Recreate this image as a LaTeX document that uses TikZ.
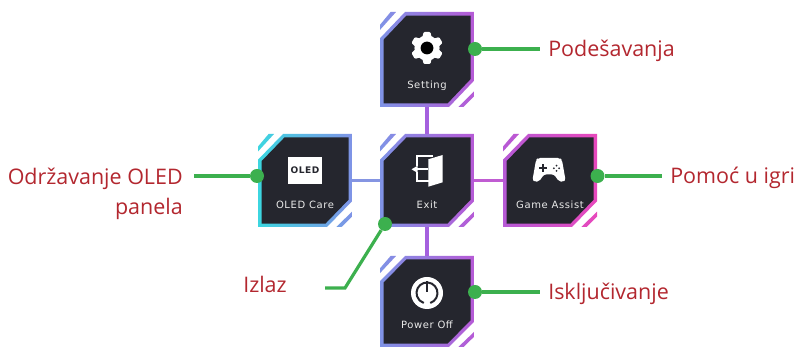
\documentclass[tikz,border=0pt]{standalone}
\usepackage{fontspec}
\setmainfont{Open Sans}
\newfontfamily\uifont[LetterSpace=6]{DejaVu Sans}
\definecolor{panel}{HTML}{25262E}
\definecolor{leadgreen}{HTML}{3CB04E}
\definecolor{labelred}{HTML}{B3272F}
\definecolor{uigrey}{HTML}{EAEAEA}
\definecolor{cyanA}{HTML}{3CD6E0}
\definecolor{periA}{HTML}{7F93E6}
\definecolor{purpA}{HTML}{B65AD6}
\definecolor{pinkA}{HTML}{E848BC}
\definecolor{linkleft}{HTML}{8595E2}
\definecolor{linkright}{HTML}{C05CD2}
\definecolor{linkmid}{HTML}{A560DE}
\tikzset{
  leadline/.style={draw=leadgreen,line width=2.4pt},
  leaddot/.style={circle,fill=leadgreen,minimum size=10.5pt,inner sep=0pt},
  calllabel/.style={text=labelred,font=\fontsize{16.1pt}{22.5pt}\selectfont,inner sep=0pt},
  uilabel/.style={text=uigrey,font=\uifont\fontsize{7.5pt}{9pt}\selectfont,inner sep=0pt,anchor=base},
  boxanchor/.style={rectangle,inner sep=0pt,minimum width=70.5pt,minimum height=#1*0.75pt},
  link/.style={line width=2.8pt},
  icon/.style={fill=white,draw=none}
}
% #1 name, #2 x, #3 y, #4 height, #5 left colour, #6 right colour, #7 text
\newcommand{\hudbox}[7]{%
  \begin{scope}[shift={(#2,#3)},yscale=#4/94]
    \begin{scope}
      \clip (0,26)--(25,0)--(94,0)--(94,68)--(69,94)--(0,94)--cycle
            (0,12.7)--(10.6,0)--(16,0)--(0,17.7)--cycle
            (78.3,94)--(94,78.5)--(94,83.5)--(83.5,94)--cycle;
      \shade[left color=#5,right color=#6] (0,0) rectangle (94,94);
    \end{scope}
    \fill[panel] (3.5,27.5)--(26.5,3.5)--(90.5,3.5)--(90.5,66.5)--(67.5,90.5)--(3.5,90.5)--cycle;
  \end{scope}
  \node[boxanchor=#4] (#1) at (#2+47,#3+#4/2) {};
  \node[uilabel] (#1text) at (#2+47,#3+#4-18.5) {#7};
}
\begin{document}
\begin{tikzpicture}[x=0.75pt,y=-0.75pt]
\useasboundingbox (0,0) rectangle (797,348);
\fill[white] (0,0) rectangle (797,348);
% boxes
\hudbox{setting}{380}{12}{95}{periA}{purpA}{Setting}
\hudbox{oled}{258}{134}{93}{cyanA}{periA}{OLED Care}
\hudbox{exit}{380}{134}{93}{periA}{purpA}{Exit}
\hudbox{game}{503}{134}{93}{purpA}{pinkA}{Game Assist}
\hudbox{power}{380}{256}{91}{periA}{purpA}{Power Off}
\draw[link,linkmid] (setting.south) -- (exit.north);
\draw[link,linkmid] (exit.south) -- (power.north);
\draw[link,linkleft] (oled.east) -- (exit.west);
\draw[link,linkright] (exit.east) -- (game.west);
% gear
\fill[icon] (427,48) circle (12.6);
\foreach \a in {30,90,150,210,270,330}{
  \fill[icon,rounded corners=0.8pt,rotate around={\a:(427,48)}] (437,43.2)--(443,44.6)--(443,51.4)--(437,52.8)--cycle;
}
\fill[black] (427,48) circle (6.4);
% OLED badge
\node[fill=white,minimum width=25.5pt,minimum height=20.2pt,inner sep=0pt,text=panel,font=\uifont\bfseries\fontsize{6.8pt}{8pt}\selectfont] (oledbadge) at (305,170.5) {OLED};
% exit icon
\draw[white,line width=1.5pt] (433,155.7)--(416.7,155.7)--(416.7,166);
\draw[white,line width=1.5pt] (416.7,172.5)--(416.7,181)--(429,181);
\draw[white,line width=1.5pt] (415,169.3)--(428,169.3);
\fill[icon] (411.5,169.3)--(417.5,165.8)--(417.5,172.8)--cycle;
\fill[icon] (428.3,159.3)--(442.7,155)--(442.7,182.3)--(428.3,186.7)--cycle;
% gamepad
\fill[icon,rounded corners=1.6pt] (538,158)--(560,158)--(562,160)--(565.5,180)--(563,182)--(559,181.5)--(554,174.5)--(544,174.5)--(539,181.5)--(535,182)--(532.5,180)--(536,160)--cycle;
\fill[panel] (539,167.3) rectangle (546.5,169.3);
\fill[panel] (541.8,164.5) rectangle (543.8,172);
\foreach \dx/\dy in {0/-2.6,0/2.6,-2.6/0,2.6/0}{\fill[panel] (556.5+\dx,168.3+\dy) circle (1);}
% power icon
\fill[icon] (427,293) circle (16);
\draw[panel,line width=1.5pt] (427,293) ++(72:10.5) arc (72:-252:10.5);
\draw[panel,line width=1.5pt] (427,281.5) -- (427,292);
% callouts
\node[leaddot] (dotsetting) at (475,49) {};
\node[leaddot] (dotoled) at (257,176) {};
\node[leaddot] (dotexit) at (385,224) {};
\node[leaddot] (dotgame) at (597.5,176) {};
\node[leaddot] (dotpower) at (475,292) {};
\node[calllabel,anchor=base west] (lblsetting) at (548,57) {Podešavanja};
\node[calllabel,anchor=base east,align=right] (lbloled) at (183,215) {Održavanje OLED\\panela};
\node[calllabel,anchor=base west] (lblgame) at (670,184) {Pomoć u igri};
\node[calllabel,anchor=base west] (lblexit) at (243,293) {Izlaz};
\node[calllabel,anchor=base west] (lblpower) at (548,300) {Isključivanje};
\coordinate (endsetting) at (540,49);
\coordinate (endoled) at (194,176);
\coordinate (endgame) at (662,176);
\coordinate (endpower) at (540,292);
\coordinate (startexit) at (325,288);
\coordinate (kneeexit) at (345,288);
\draw[leadline] (dotsetting) -- (endsetting);
\draw[leadline] (endoled) -- (dotoled);
\draw[leadline] (dotgame) -- (endgame);
\draw[leadline] (dotpower) -- (endpower);
\draw[leadline] (startexit) -- (kneeexit) -- (dotexit);
\end{tikzpicture}
\end{document}
